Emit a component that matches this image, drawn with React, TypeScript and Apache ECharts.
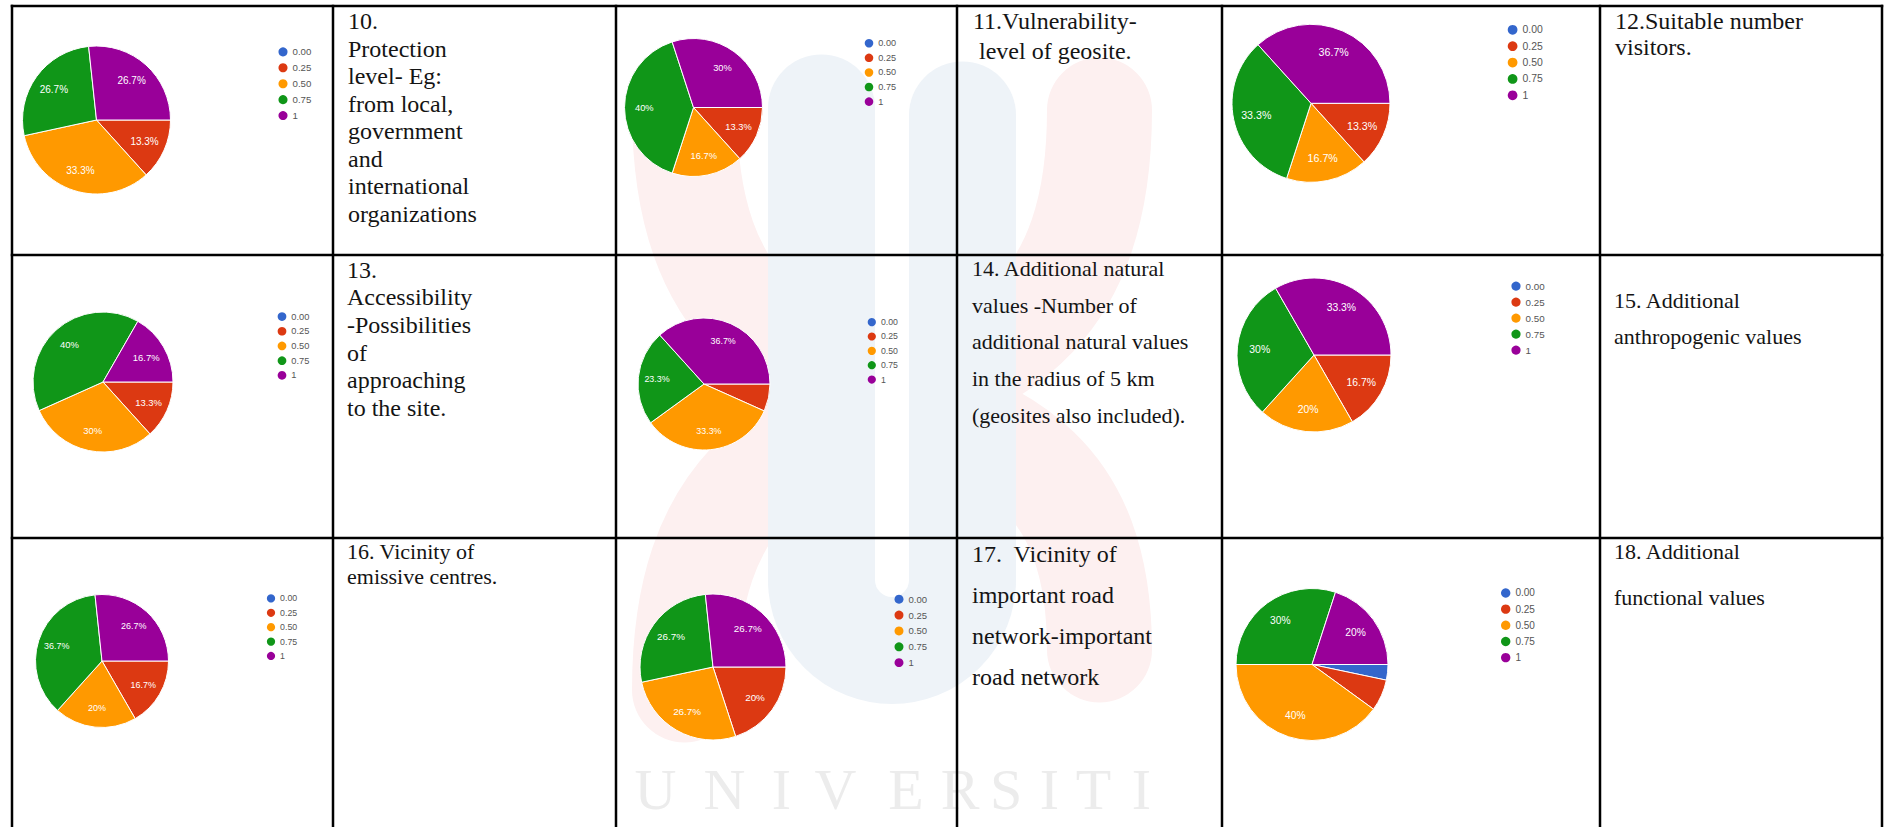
import React, { useEffect, useRef } from 'react';
import * as echarts from 'echarts';

const W = 1886;
const H = 827;

// categories (legend entries) and slice colours
const CATEGORIES = ['0.00', '0.25', '0.50', '0.75', '1'];
const SLICE_COLORS = ['#3366CC', '#DC3912', '#FF9900', '#109618', '#990099'];

// percentage shares per chart (order follows CATEGORIES)
const Q10 = [0, 13.3, 33.3, 26.7, 26.7];
const Q11 = [0, 13.3, 16.7, 40, 30];
const Q12 = [0, 13.3, 16.7, 33.3, 36.7];
const Q13 = [0, 13.3, 30, 40, 16.7];
const Q14 = [0, 6.7, 33.3, 23.3, 36.7];
const Q15 = [0, 16.7, 20, 30, 33.3];
const Q16 = [0, 16.7, 20, 36.7, 26.7];
const Q17 = [0, 20, 26.7, 26.7, 26.7];
const Q18 = [3.3, 6.7, 40, 30, 20];

// table texts
const T10 = ['10.', 'Protection', 'level- Eg:', 'from local,', 'government', 'and', 'international', 'organizations'];
const T11 = ['11.Vulnerability-', ' level of geosite.'];
const T12 = ['12.Suitable number', 'visitors.'];
const T13 = ['13.', 'Accessibility', '-Possibilities', 'of', 'approaching', 'to the site.'];
const T14 = ['14. Additional natural', 'values -Number of', 'additional natural values', 'in the radius of 5 km', '(geosites also included).'];
const T15 = ['15. Additional', 'anthropogenic values'];
const T16 = ['16. Vicinity of', 'emissive centres.'];
const T17 = ['17.  Vicinity of', 'important road', 'network-important', 'road network'];
const T18 = ['18. Additional', 'functional values'];

const WATERMARK = 'UNIVERSITI';

const SERIF = "'Liberation Serif', 'Times New Roman', serif";
const SANS = "'Liberation Sans', Arial, sans-serif";

// layout (positions / sizes)
const PIE_LAYOUT = [
  { values: Q10, cx: 96.5, cy: 120, r: 74, lx: 283, ly: 51.7, step: 15.6 },
  { values: Q11, cx: 693.5, cy: 107.5, r: 69, lx: 869, ly: 43.3, step: 14.75 },
  { values: Q12, cx: 1311, cy: 103.3, r: 79, lx: 1512.6, ly: 30, step: 16.8 },
  { values: Q13, cx: 103, cy: 382, r: 70, lx: 282, ly: 316.7, step: 15 },
  { values: Q14, cx: 704, cy: 384, r: 66, lx: 871.8, ly: 322, step: 14.1 },
  { values: Q15, cx: 1314, cy: 355, r: 77, lx: 1516, ly: 286, step: 15.8 },
  { values: Q16, cx: 102, cy: 661, r: 66.5, lx: 271, ly: 598.3, step: 14.2 },
  { values: Q17, cx: 713, cy: 667, r: 73, lx: 899, ly: 599, step: 15.4 },
  { values: Q18, cx: 1312, cy: 664.5, r: 76, lx: 1505.7, ly: 593, step: 16.2 },
];

const CELL_LAYOUT = [
  { lines: T10, x: 348, y: 29.3, step: 27.5, fs: 24 },
  { lines: T11, x: 973, y: 29, step: 30, fs: 24 },
  { lines: T12, x: 1615, y: 29.3, step: 25.7, fs: 24 },
  { lines: T13, x: 347, y: 278, step: 27.6, fs: 24 },
  { lines: T14, x: 972, y: 276, step: 36.7, fs: 22 },
  { lines: T15, x: 1614, y: 308.3, step: 35.7, fs: 22 },
  { lines: T16, x: 347, y: 559.3, step: 24.7, fs: 22 },
  { lines: T17, x: 972, y: 562.5, step: 40.9, fs: 24 },
  { lines: T18, x: 1614, y: 559.3, step: 45.7, fs: 22 },
];

const COL_X = [12, 333, 616, 957, 1222, 1600, 1882];
const ROW_Y = [6, 255, 538];
const WM_LETTER_CX = [655.5, 724.5, 781.5, 835.5, 906, 960, 1006, 1049.5, 1093.5, 1141.5];

function buildOption() {
  const visibleSeries: any[] = [];
  const labelSeries: any[] = [];
  const legends: any[] = [];

  PIE_LAYOUT.forEach((p, idx) => {
    const data = CATEGORIES.map((name, i) => ({
      name,
      value: p.values[i],
      itemStyle: { color: SLICE_COLORS[i] },
    }));
    visibleSeries.push({
      type: 'pie',
      id: 'pie' + idx,
      center: [p.cx, p.cy],
      radius: p.r,
      startAngle: 0,
      clockwise: true,
      avoidLabelOverlap: false,
      label: { show: false },
      labelLine: { show: false },
      emphasis: { disabled: true },
      itemStyle: { borderColor: '#ffffff', borderWidth: 1 },
      data,
      z: 2,
    });
    labelSeries.push({
      type: 'pie',
      id: 'lab' + idx,
      center: [p.cx, p.cy],
      radius: [p.r * 0.34, p.r],
      startAngle: 0,
      clockwise: true,
      silent: true,
      avoidLabelOverlap: false,
      emphasis: { disabled: true },
      itemStyle: { color: 'rgba(0,0,0,0)', borderWidth: 0 },
      labelLine: { show: false },
      label: {
        show: true,
        position: 'inside',
        color: '#ffffff',
        fontFamily: SANS,
        fontSize: p.r * 0.135,
        formatter: (q: any) => q.value + '%',
      },
      data: CATEGORIES.map((name, i) => ({
        name,
        value: p.values[i],
        label: { show: p.values[i] >= 10 },
      })),
      z: 3,
    });
    const fs = p.step * 0.62;
    const d = p.step * 0.58;
    legends.push({
      orient: 'vertical',
      left: p.lx - d / 2,
      top: p.ly - fs / 2,
      padding: 0,
      itemWidth: d,
      itemHeight: d,
      itemGap: p.step - fs,
      icon: 'circle',
      selectedMode: false,
      itemStyle: { borderWidth: 0 },
      textStyle: { fontSize: fs, color: '#555555', fontFamily: SANS },
      data: CATEGORIES.map((name, i) => ({
        name,
        itemStyle: { color: SLICE_COLORS[i], borderWidth: 0 },
      })),
    });
  });

  const graphic: any[] = [];
  // watermark (faint university logo)
  const pink = '#fdf0f0';
  const blue = '#eef3f8';
  graphic.push({
    type: 'bezierCurve', z: 0, silent: true,
    shape: { x1: 684.5, y1: 110, cpx1: 684.5, cpy1: 520, cpx2: 1099.5, cpy2: 280, x2: 1099.5, y2: 650 },
    style: { stroke: pink, lineWidth: 105, lineCap: 'round', fill: null },
  });
  graphic.push({
    type: 'bezierCurve', z: 0, silent: true,
    shape: { x1: 1099.5, y1: 110, cpx1: 1099.5, cpy1: 520, cpx2: 684.5, cpy2: 280, x2: 684.5, y2: 690 },
    style: { stroke: pink, lineWidth: 105, lineCap: 'round', fill: null },
  });
  graphic.push({
    type: 'line', z: 0, silent: true,
    shape: { x1: 892, y1: 60, x2: 892, y2: 585 },
    style: { stroke: '#ffffff', lineWidth: 34 },
  });
  graphic.push({
    type: 'line', z: 0, silent: true,
    shape: { x1: 821.5, y1: 108, x2: 821.5, y2: 580 },
    style: { stroke: blue, lineWidth: 107, lineCap: 'round' },
  });
  graphic.push({
    type: 'line', z: 0, silent: true,
    shape: { x1: 962.5, y1: 115, x2: 962.5, y2: 580 },
    style: { stroke: blue, lineWidth: 107, lineCap: 'round' },
  });
  graphic.push({
    type: 'arc', z: 0, silent: true,
    shape: { cx: 892, cy: 580, r: 70.5, startAngle: 0, endAngle: Math.PI, clockwise: true },
    style: { stroke: blue, lineWidth: 107, fill: null },
  });
  WATERMARK.split('').forEach((ch, i) => {
    graphic.push({
      type: 'text', z: 1, silent: true,
      x: WM_LETTER_CX[i], y: 789,
      style: {
        text: ch, fontSize: 58, fontFamily: SERIF,
        fill: '#ececec', align: 'center', verticalAlign: 'middle',
      },
    });
  });

  // table grid
  COL_X.forEach((x) => {
    graphic.push({
      type: 'line', z: 20, silent: true,
      shape: { x1: x, y1: ROW_Y[0] - 1.25, x2: x, y2: H },
      style: { stroke: '#000000', lineWidth: 2.5 },
    });
  });
  ROW_Y.forEach((y) => {
    graphic.push({
      type: 'line', z: 20, silent: true,
      shape: { x1: COL_X[0] - 1.25, y1: y, x2: COL_X[COL_X.length - 1] + 1.25, y2: y },
      style: { stroke: '#000000', lineWidth: 2.5 },
    });
  });

  // cell texts
  CELL_LAYOUT.forEach((c) => {
    c.lines.forEach((line, i) => {
      const baseline = c.y + i * c.step;
      graphic.push({
        type: 'text', z: 20, silent: true,
        x: c.x, y: baseline - 0.34 * c.fs,
        style: {
          text: line, fontSize: c.fs, fontFamily: SERIF,
          fill: '#141414', align: 'left', verticalAlign: 'middle',
        },
      });
    });
  });

  return {
    animation: false,
    backgroundColor: '#ffffff',
    legend: legends,
    graphic,
    series: [...visibleSeries, ...labelSeries],
  };
}

export default function App() {
  const ref = useRef<HTMLDivElement>(null);
  useEffect(() => {
    if (!ref.current) return;
    const chart = echarts.init(ref.current, null, { renderer: 'svg' });
    chart.setOption(buildOption());
    return () => chart.dispose();
  }, []);
  return (
    <div
      ref={ref}
      style={{ position: 'fixed', left: 0, top: 0, width: W, height: H, background: '#fff' }}
    />
  );
}
